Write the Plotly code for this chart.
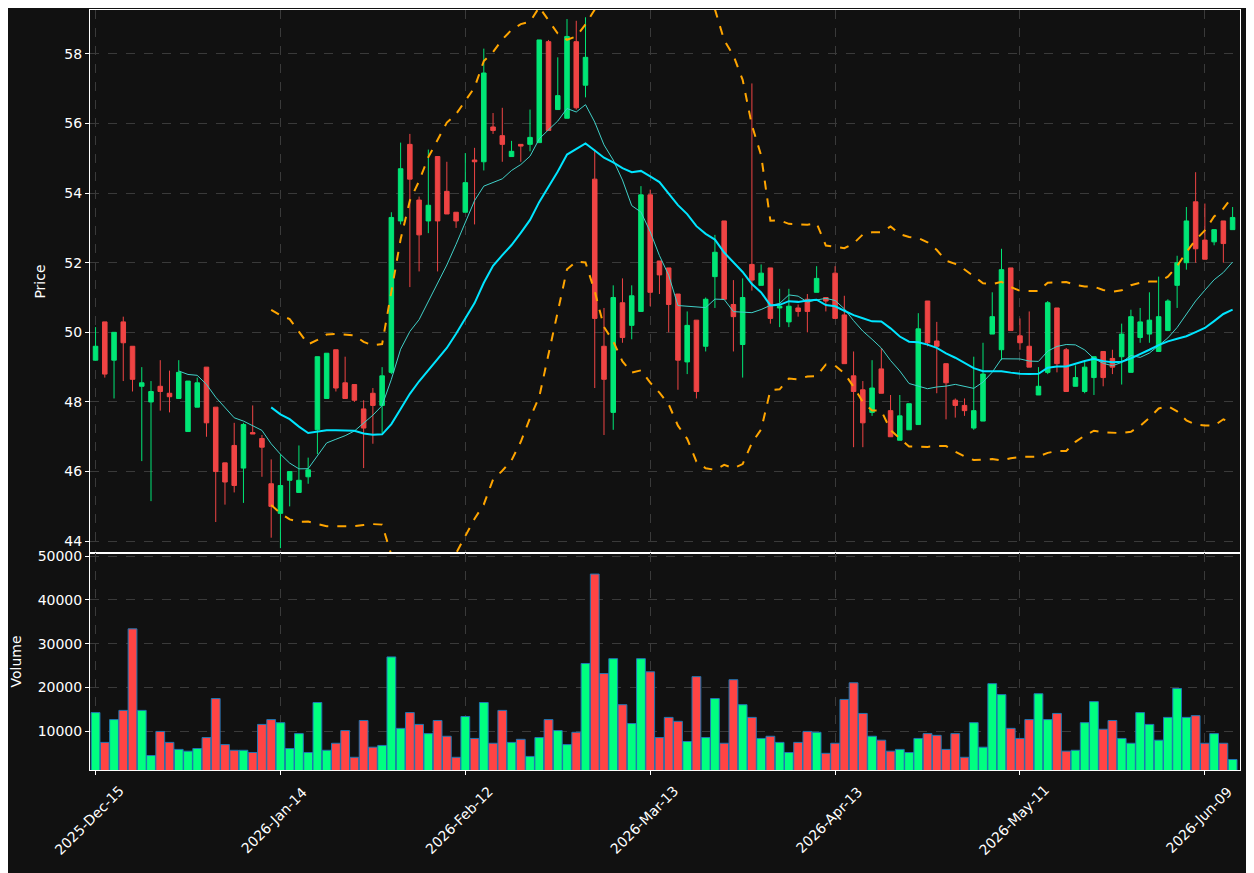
import numpy as np
import plotly.graph_objects as go
from plotly.subplots import make_subplots

opens = [49.2,50.3,49.2,50.3,49.6,48.45,48.0,48.45,48.25,48.1,47.15,47.85,49.0,47.85,46.25,46.75,46.1,47.12,46.95,45.65,
         44.8,45.75,45.4,45.85,47.2,48.1,49.5,48.55,48.5,47.8,48.25,47.9,48.85,53.2,55.4,53.8,53.2,55.05,54.05,53.45,
         53.45,54.95,54.9,55.9,55.65,55.05,55.4,55.4,55.45,58.35,56.4,56.15,58.35,57.1,54.4,49.6,47.7,50.85,50.2,50.6,
         53.95,52.05,51.85,51.1,49.15,50.35,49.6,51.6,53.2,50.8,49.65,51.95,51.35,51.85,50.7,50.3,50.7,50.95,51.15,51.0,
         51.7,50.5,48.75,48.35,47.7,48.95,47.75,46.9,47.2,47.35,50.9,49.75,49.1,48.05,47.9,47.25,47.45,49.95,49.5,51.85,
         49.9,49.6,48.2,48.85,50.7,49.5,48.45,48.3,48.7,49.45,49.25,49.3,48.85,49.85,49.95,49.45,50.05,51.35,52.0,53.75,
         52.65,52.6,53.2,52.95]
highs = [50.15,50.3,50.0,50.45,49.6,49.0,48.6,49.2,48.9,49.2,48.6,48.7,49.0,47.85,46.25,47.4,47.4,47.9,47.05,46.35,
         46.5,46.0,46.75,46.4,49.3,49.4,49.5,49.3,48.5,48.05,48.4,49.0,53.45,55.45,55.7,53.9,55.25,55.05,54.9,53.45,
         55.15,55.3,58.15,56.3,56.45,55.5,55.4,56.4,58.4,58.4,57.9,59.0,58.95,59.05,55.25,50.7,51.35,51.55,51.35,54.2,
         54.1,52.05,51.85,51.1,50.6,50.35,51.0,52.8,53.2,51.5,51.55,57.15,51.95,51.85,51.25,51.25,50.8,51.1,51.9,51.0,
         51.9,51.05,49.45,48.6,49.2,49.55,48.2,48.2,47.95,50.55,50.9,50.3,49.1,48.1,48.1,49.3,49.7,51.15,52.4,51.85,
         50.4,50.6,49.0,50.9,50.7,49.55,49.05,49.2,49.3,49.45,49.5,50.25,50.65,50.7,51.15,51.6,50.95,52.2,53.6,54.6,
         53.7,52.95,53.2,53.6]
lows = [49.2,48.7,48.1,48.6,48.3,46.3,45.15,47.75,47.7,48.1,47.15,47.85,47.0,44.55,45.05,45.4,45.1,47.1,45.85,44.1,
        43.8,45.0,45.4,45.65,46.5,48.1,48.3,48.1,48.0,46.1,46.8,47.1,48.8,53.1,51.3,51.75,52.85,51.75,53.4,53.0,
        53.45,53.1,54.65,55.7,54.9,55.05,54.9,55.2,55.45,55.8,56.4,56.15,56.4,56.75,48.4,47.05,47.2,49.7,49.8,50.6,
        50.75,51.1,50.0,48.35,48.8,48.1,49.45,50.7,50.95,49.45,48.7,51.2,51.35,50.25,50.15,50.15,50.45,50.0,51.15,50.6,
        50.4,49.1,46.7,46.7,47.6,48.25,47.0,46.9,47.2,47.35,49.6,48.25,47.5,47.55,47.6,47.2,47.45,49.95,49.2,50.05,
        49.5,49.0,48.2,48.8,48.85,48.3,48.45,48.25,48.2,48.45,48.8,48.5,48.85,49.7,49.7,49.45,50.05,50.7,51.8,52.0,
        52.1,52.5,52.0,52.95]
closes = [49.6,48.8,50.0,49.7,48.65,48.55,48.3,48.3,48.15,48.85,48.6,48.55,47.4,46.0,45.7,45.6,47.35,47.08,46.7,45.0,
          45.6,46.0,45.75,46.05,49.3,49.4,48.4,48.1,48.05,47.25,47.9,48.75,53.3,54.7,54.4,52.8,53.65,53.2,53.4,53.2,
          54.3,54.9,57.45,55.8,55.4,55.2,55.35,55.6,58.4,55.8,56.8,58.5,56.45,57.9,50.4,48.65,51.0,49.85,51.05,53.95,
          51.15,51.65,50.8,49.2,50.2,48.3,50.95,52.3,50.95,50.45,51.0,51.5,51.7,50.4,50.75,50.75,50.6,50.6,51.55,50.9,
          50.4,49.1,48.3,47.4,48.4,48.25,47.0,47.6,47.95,50.1,49.7,49.6,48.55,47.9,47.75,47.75,48.8,50.45,51.8,50.05,
          49.7,49.0,48.45,50.85,49.1,48.3,48.7,49.0,49.3,48.7,49.0,49.95,50.45,50.3,50.35,50.45,50.9,52.0,53.2,52.4,
          52.1,52.95,52.55,53.3]
volumes = [14300,7500,12700,14800,33400,14800,4500,10000,7500,5900,5500,6100,8600,17500,7000,5700,5700,5200,11600,12700,
           12000,6100,9500,5200,16600,5700,7300,10200,4100,12500,6400,6800,27000,10700,14300,11600,9500,12500,8900,4100,
           13400,8400,16600,7300,14800,7500,8200,4300,8600,12700,10200,7000,9800,25500,45900,23200,26600,16100,11800,26600,
           23600,8600,13200,12300,7700,22500,8600,17500,7300,21800,16100,13200,8400,8900,7500,5200,7500,10000,9800,5000,
           7300,17300,21100,14100,8900,8000,5500,5900,5200,8400,9500,9100,5900,9500,4100,12000,6400,20900,18400,10700,
           8400,12700,18600,12700,14100,5500,5700,12000,16800,10500,12500,8400,7300,14300,11600,8000,13200,19800,13200,13600,
           7300,9500,7300,3600]
tick_pos = [0, 20, 40, 60, 80, 100, 120]
tick_labels = ["2025-Dec-15", "2026-Jan-14", "2026-Feb-12", "2026-Mar-13", "2026-Apr-13", "2026-May-11", "2026-Jun-09"]

x = list(range(len(closes)))
c = np.array(closes)
def sma(a, n):
    out = [None]*len(a)
    for i in range(n-1, len(a)):
        out[i] = float(np.mean(a[i-n+1:i+1]))
    return out
def bands(a, n, k):
    up = [None]*len(a); lo = [None]*len(a)
    for i in range(n-1, len(a)):
        w = a[i-n+1:i+1]; m = w.mean(); s = w.std()
        up[i] = float(m + k*s); lo[i] = float(m - k*s)
    return up, lo
ma10 = sma(c, 10)
ma20 = sma(c, 20)
bu, bl = bands(c, 20, 2)

fig = make_subplots(rows=2, cols=1, shared_xaxes=True, vertical_spacing=0, row_heights=[0.7145, 0.2855])
fig.add_trace(go.Candlestick(x=x, open=opens, high=highs, low=lows, close=closes,
    increasing=dict(line=dict(color="#00e676", width=1), fillcolor="#00e676"),
    decreasing=dict(line=dict(color="#ef4444", width=1), fillcolor="#ef4444"),
    whiskerwidth=0, showlegend=False), row=1, col=1)
fig.add_trace(go.Scatter(x=x, y=ma10, mode="lines", line=dict(color="#40d0c8", width=1), showlegend=False), row=1, col=1)
fig.add_trace(go.Scatter(x=x, y=ma20, mode="lines", line=dict(color="#00e5ff", width=2), showlegend=False), row=1, col=1)
fig.add_trace(go.Scatter(x=x, y=bu, mode="lines", line=dict(color="#ffa500", width=2, dash="dash"), showlegend=False), row=1, col=1)
fig.add_trace(go.Scatter(x=x, y=bl, mode="lines", line=dict(color="#ffa500", width=2, dash="dash"), showlegend=False), row=1, col=1)
vcol = ["#00ff80" if cl >= op else "#ff4444" for op, cl in zip(opens, closes)]
fig.add_trace(go.Bar(x=x, y=volumes, marker=dict(color=vcol, line=dict(color="#1f77b4", width=1)),
    width=0.95, showlegend=False), row=2, col=1)

grid = dict(showgrid=True, gridcolor="#3a3a3a", griddash="dash", gridwidth=1, zeroline=False,
            showline=True, linecolor="white", linewidth=1, mirror=True, automargin=False,
            tickfont=dict(color="white", size=14), ticks="outside", tickcolor="white", ticklen=4)
fig.update_xaxes(**grid, range=[-0.6, 123.8], tickvals=tick_pos, ticktext=tick_labels,
                 showticklabels=False, rangeslider_visible=False)
fig.update_yaxes(**grid)
fig.update_yaxes(range=[43.66, 59.26], dtick=2, title=dict(text="Price", font=dict(color="white", size=14)), row=1, col=1)
fig.update_yaxes(range=[1200, 50700], tickvals=[10000, 20000, 30000, 40000, 50000], tickformat="d",
                 title=dict(text="Volume", font=dict(color="white", size=14)), row=2, col=1)
for p, t in zip(tick_pos, tick_labels):
    fig.add_annotation(x=p, xref="x2", y=-0.066, yref="paper", text=t, showarrow=False, textangle=-45,
                       xanchor="center", yanchor="middle", xshift=-6, font=dict(color="white", size=14))
fig.update_layout(width=1254, height=873, paper_bgcolor="#111111", plot_bgcolor="#111111",
                  margin=dict(l=82, r=22, t=2, b=111), font=dict(family="DejaVu Sans", color="white"),
                  bargap=0.05)
fig.write_html("out.html")
